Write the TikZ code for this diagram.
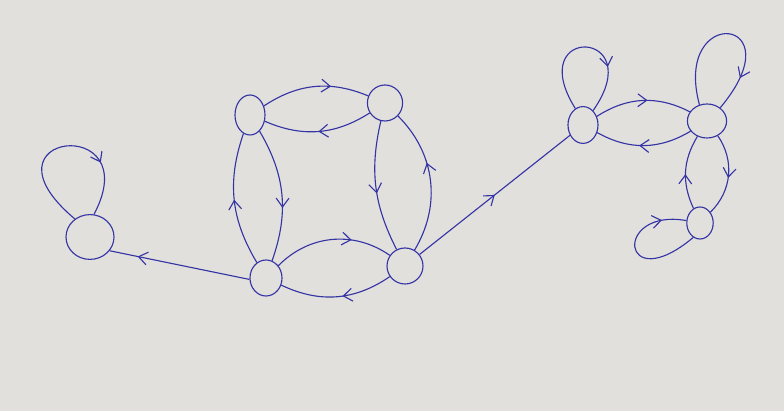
\documentclass[tikz,border=0pt]{standalone}
\usepackage{tikz}
\usetikzlibrary{shapes.geometric,arrows.meta,decorations.markings}
\definecolor{paper}{RGB}{226,224,220}
\definecolor{ink}{RGB}{52,52,165}

\begin{document}
\begin{tikzpicture}[x=0.025cm,y=0.025cm,
state/.style={draw=ink,ellipse,line width=0.8pt,inner sep=0pt},
edge/.style={draw=ink,line width=0.8pt},
arr/.style={postaction={decorate},decoration={markings,
mark=at position #1 with {\arrow{Straight Barb[length=2.2mm,width=3.2mm]}}}},
arr/.default=0.5]
\fill[paper] (0,0) rectangle (784,411);
\useasboundingbox (0,0) rectangle (784,411);
\node[state,minimum width=1.2cm,minimum height=1.12cm] (a) at (90,174) {};
\node[state,minimum width=0.8cm,minimum height=0.9cm] (b) at (266,133) {};
\node[state,minimum width=0.75cm,minimum height=1cm] (c) at (250,296) {};
\node[state,minimum width=0.88cm,minimum height=0.9cm] (d) at (385,308) {};
\node[state,minimum width=0.9cm,minimum height=0.9cm] (e) at (405,145) {};
\node[state,minimum width=0.75cm,minimum height=0.92cm] (f) at (583,286) {};
\node[state,minimum width=0.98cm,minimum height=0.85cm] (g) at (707,290) {};
\node[state,minimum width=0.66cm,minimum height=0.8cm] (h) at (700,188) {};
\path[edge,arr=0.72] (a.130) .. controls +(140:135) and +(62:115) .. (a.80);
\path[edge,arr=0.8] (b.185) -- (a.-35);
\path[edge,arr] (b) to[bend left=25] (c);
\path[edge,arr=0.6] (c) to[bend left=25] (b);
\path[edge,arr=0.65] (c) to[bend left=28] (d);
\path[edge,arr] (d) to[bend left=28] (c);
\path[edge,arr=0.55] (d) to[bend right=20] (e);
\path[edge,arr=0.62] (e) to[bend right=38] (d);
\path[edge,arr=0.66] (b) to[bend left=40] (e);
\path[edge,arr=0.45] (e) to[bend left=30] (b);
\path[edge,arr] (e) -- (f);
\path[edge,arr=0.7] (f.115) .. controls +(122:100) and +(55:100) .. (f.55);
\path[edge,arr=0.55] (f) to[bend left=30] (g);
\path[edge,arr=0.55] (g) to[bend left=30] (f);
\path[edge,arr=0.8] (g.115) .. controls +(105:105) and +(50:120) .. (g.45);
\path[edge,arr=0.53] (g) to[bend left=40] (h);
\path[edge,arr=0.47] (h) to[bend left=28] (g);
\path[edge,arr=0.82] (h.-115) .. controls +(220:95) and +(170:75) .. (h.170);
\end{tikzpicture}
\end{document}
